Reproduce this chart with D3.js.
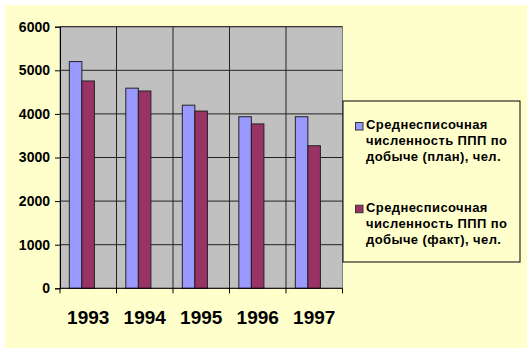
<!DOCTYPE html>
<html>
<head>
<meta charset="utf-8">
<script src="https://cdn.jsdelivr.net/npm/d3@7"></script>
<style>
  body { margin: 0; background: #fff; }
  svg { display: block; font-family: "Liberation Sans", Arial, sans-serif; }
</style>
</head>
<body>
<div id="graphHolder"></div>
<script>
// data
var years = ["1993", "1994", "1995", "1996", "1997"];
var planValues = [5200, 4590, 4200, 3935, 3935];
var factValues = [4755, 4525, 4065, 3770, 3270];
var seriesNames = [
    ["Среднесписочная", "численность ППП по", "добыче (план), чел."],
    ["Среднесписочная", "численность ППП по", "добыче (факт), чел."]
];
var yTicks = [0, 1000, 2000, 3000, 4000, 5000, 6000];
var colors = ["#9999FF", "#993366"];

var graphWidth = 530, graphHeight = 352;

function drawBarChart() {
    var svg = d3.select("#graphHolder")
            .append("svg").attr("id", "graph")
            .attr("width", graphWidth)
            .attr("height", graphHeight);

    // chart area background
    svg.append("rect")
            .attr("x", 5).attr("y", 5)
            .attr("width", 522).attr("height", 343)
            .attr("fill", "#FFFFCC");

    var left = 60, right = 342.5, top = 26.7, bottom = 288.3;

    var x = d3.scaleBand()
            .domain(years)
            .range([left, right])
            .padding(0);

    var y = d3.scaleLinear()
            .domain([0, 6000])
            .range([bottom, top]);

    var g = svg.append("g");

    g.append("rect")
            .attr("x", left).attr("y", top)
            .attr("width", right - left).attr("height", bottom - top)
            .attr("fill", "#C0C0C0")
            .attr("stroke", "#808080");

    // horizontal gridlines
    g.selectAll(".hgrid")
            .data(yTicks.filter(function (d) { return d > 0; }))
            .enter().append("line")
            .attr("x1", left).attr("x2", right)
            .attr("y1", function (d) { return y(d); })
            .attr("y2", function (d) { return y(d); })
            .attr("stroke", "#222")
            .attr("stroke-width", 1);

    // vertical gridlines at category boundaries
    g.selectAll(".vgrid")
            .data(years.slice(1))
            .enter().append("line")
            .attr("x1", function (d) { return x(d); })
            .attr("x2", function (d) { return x(d); })
            .attr("y1", top).attr("y2", bottom)
            .attr("stroke", "#222")
            .attr("stroke-width", 1);

    var bw = x.bandwidth() * 0.222;
    var off = x.bandwidth() * 0.165;
    var series = [planValues, factValues];

    series.forEach(function (vals, i) {
        g.selectAll(".bar" + i)
                .data(vals)
                .enter().append("rect")
                .attr("x", function (d, j) { return x(years[j]) + off + i * bw; })
                .attr("y", function (d) { return y(d); })
                .attr("width", bw)
                .attr("height", function (d) { return y(0) - y(d); })
                .attr("fill", colors[i])
                .attr("stroke", "#222")
                .attr("stroke-width", 1);
    });

    // y axis
    var yAxis = g.append("g")
            .attr("transform", "translate(" + left + ",0)")
            .call(d3.axisLeft(y).tickValues(yTicks).tickSize(5).tickPadding(5).tickFormat(d3.format("d")));
    yAxis.select(".domain").attr("stroke", "#000");
    yAxis.selectAll("text")
            .attr("fill", "#000")
            .attr("font-size", "14px")
            .attr("font-weight", "bold")
            .attr("font-family", "Liberation Sans, Arial, sans-serif");

    // x axis, ticks between categories
    var xAxis = g.append("g")
            .attr("transform", "translate(0," + bottom + ")");
    xAxis.append("line")
            .attr("x1", left).attr("x2", right)
            .attr("stroke", "#000");
    xAxis.selectAll(".tk")
            .data(years.concat(["end"]))
            .enter().append("line")
            .attr("x1", function (d, j) { return j < years.length ? x(d) : right; })
            .attr("x2", function (d, j) { return j < years.length ? x(d) : right; })
            .attr("y1", 0).attr("y2", 5)
            .attr("stroke", "#000");
    xAxis.selectAll(".lbl")
            .data(years)
            .enter().append("text")
            .attr("x", function (d) { return x(d) + x.bandwidth() / 2; })
            .attr("y", 36)
            .attr("text-anchor", "middle")
            .attr("font-size", "19px")
            .attr("font-weight", "bold")
            .text(function (d) { return d; });

    // legend
    var lg = svg.append("g");
    lg.append("rect")
            .attr("x", 343).attr("y", 101)
            .attr("width", 177).attr("height", 161)
            .attr("fill", "#FFFFCC")
            .attr("stroke", "#000");

    seriesNames.forEach(function (lines, i) {
        var y0 = 129 + i * 82.7;
        lg.append("rect")
                .attr("x", 355.5).attr("y", y0 - 6.5)
                .attr("width", 7.5).attr("height", 7.5)
                .attr("fill", colors[i])
                .attr("stroke", "#333");
        lg.append("text")
                .attr("x", 366).attr("y", y0)
                .attr("font-size", "13px")
                .attr("letter-spacing", "0.4px")
                .attr("font-weight", "bold")
                .selectAll("tspan")
                .data(lines)
                .enter().append("tspan")
                .attr("x", 366)
                .attr("dy", function (d, k) { return k === 0 ? 0 : 16; })
                .text(function (d) { return d; });
    });
}

drawBarChart();
</script>
</body>
</html>
